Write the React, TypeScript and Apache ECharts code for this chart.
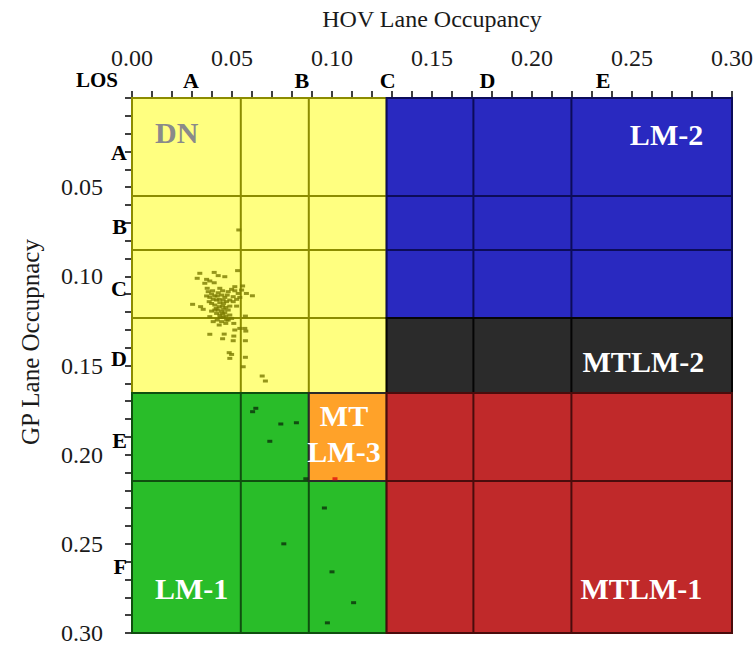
import React, { useEffect, useRef } from 'react';
import * as echarts from 'echarts';

// LOS boundaries (occupancy) on each axis
const xBounds = [0, 0.0544, 0.0884, 0.1273, 0.1707, 0.2197, 0.3];
const yBounds = [0, 0.055, 0.0852, 0.1234, 0.1654, 0.2148, 0.3];

// Regions as index ranges into the bounds
const regionNames = ['DN', 'LM-2', 'MTLM-2', 'LM-1', 'MT LM-3', 'MTLM-1'];
const regionXIdx = [[0, 3], [3, 6], [3, 6], [0, 3], [2, 3], [3, 6]];
const regionYIdx = [[0, 4], [0, 3], [3, 4], [4, 6], [4, 5], [4, 6]];

// Region label texts and anchor values
const labelTexts = ['DN', 'LM-2', 'MTLM-2', 'LM-1', 'MT\nLM-3', 'MTLM-1'];
const labelXs = [0.0115, 0.2856, 0.2861, 0.0115, 0.106, 0.2851];
const labelYs = [0.0196, 0.0202, 0.1475, 0.2748, 0.1879, 0.2748];

// LOS letters
const losXLetters = ['A', 'B', 'C', 'D', 'E'];
const losXPos = [0.0295, 0.0849, 0.1278, 0.1777, 0.2356];
const losYLetters = ['A', 'B', 'C', 'D', 'E', 'F'];
const losYPos = [0.0303, 0.0718, 0.1066, 0.1458, 0.1918, 0.2625];

// Observations
const dnPoints = [
  [0.0534, 0.074], [0.0528, 0.0968], [0.0339, 0.0983], [0.0411, 0.0978], [0.0431, 0.0996],
  [0.0326, 0.1011], [0.0464, 0.1002], [0.0373, 0.1017], [0.0389, 0.1026], [0.0364, 0.1039],
  [0.0411, 0.1036], [0.0553, 0.1054], [0.0514, 0.1058], [0.0376, 0.1067], [0.0439, 0.1067],
  [0.0572, 0.1096], [0.0602, 0.1109], [0.0303, 0.1157], [0.0343, 0.117], [0.0356, 0.1185],
  [0.0523, 0.1167], [0.0398, 0.1195], [0.0389, 0.1226], [0.0567, 0.1223], [0.0406, 0.1254],
  [0.0481, 0.1245], [0.0509, 0.1264], [0.0539, 0.1292], [0.0564, 0.1292], [0.0514, 0.1301],
  [0.0569, 0.1307], [0.0389, 0.1325], [0.0461, 0.1324], [0.0509, 0.1335], [0.0453, 0.135],
  [0.0506, 0.1361], [0.0567, 0.1361], [0.0486, 0.1428], [0.0498, 0.1438], [0.0489, 0.146],
  [0.0567, 0.1454], [0.0556, 0.1507], [0.0651, 0.1559], [0.0667, 0.1587],
  [0.0381, 0.1086], [0.0398, 0.1099], [0.0414, 0.111], [0.0431, 0.1092], [0.0448, 0.1105],
  [0.0464, 0.1118], [0.0481, 0.1086], [0.0498, 0.1073], [0.0514, 0.1081], [0.0531, 0.1096],
  [0.0539, 0.1118], [0.0523, 0.1129], [0.0506, 0.1114], [0.0489, 0.1133], [0.0473, 0.1142],
  [0.0456, 0.1133], [0.0439, 0.1148], [0.0423, 0.1133], [0.0406, 0.1129], [0.0389, 0.1118],
  [0.0373, 0.111], [0.0386, 0.1142], [0.0414, 0.1161], [0.0436, 0.117], [0.0453, 0.1167],
  [0.0469, 0.1174], [0.0431, 0.1189], [0.0448, 0.1198], [0.0464, 0.1204], [0.0481, 0.1189],
  [0.0439, 0.1217], [0.0456, 0.123], [0.0469, 0.1223], [0.0423, 0.1208], [0.0489, 0.1217],
  [0.0426, 0.1245], [0.0448, 0.1254], [0.0473, 0.1245], [0.0498, 0.1236], [0.0548, 0.1077],
  [0.0398, 0.1152], [0.0421, 0.118], [0.0441, 0.123], [0.0458, 0.1185], [0.0489, 0.1167],
  [0.0506, 0.1142], [0.0426, 0.111], [0.0403, 0.1081], [0.0453, 0.1081], [0.0476, 0.1105],
  [0.0436, 0.1129], [0.0458, 0.1152], [0.0414, 0.1189], [0.0453, 0.1211], [0.0469, 0.1264],
  [0.0436, 0.1273],
];
const lm1Points = [
  [0.0619, 0.174], [0.0603, 0.1759], [0.0744, 0.1828], [0.0822, 0.1821], [0.0689, 0.1925],
  [0.0869, 0.2135], [0.0962, 0.2299], [0.0759, 0.25], [0.1, 0.2657], [0.1108, 0.283],
  [0.0977, 0.2943],
];
const lm3Points = [[0.1015, 0.2135]];

// Styles
const regionFill = ['#ffff80', '#2929c0', '#2b2b2b', '#29bd29', '#ffa229', '#c0292a'];
const regionLine = ['#8c8c00', '#0c0c5a', '#050505', '#0f4f0f', '#2a2a2a', '#4a0c0c'];
const labelColors = ['#8a8a8a', '#ffffff', '#ffffff', '#ffffff', '#ffffff', '#ffffff'];
const labelAlign = ['left', 'right', 'right', 'left', 'center', 'right'];

const SERIF = '"Liberation Serif", "Times New Roman", serif';

export default function App() {
  const ref = useRef<HTMLDivElement>(null);

  useEffect(() => {
    if (!ref.current) return;
    const chart = echarts.init(ref.current, null, { renderer: 'svg' });

    const axisCommon = {
      type: 'value',
      min: 0,
      max: 0.3,
      interval: 0.05,
      axisLine: { show: true, onZero: false, lineStyle: { color: '#000', width: 2 } },
      axisTick: { show: true, length: 7, lineStyle: { color: '#000', width: 1.5 } },
      minorTick: { show: true, splitNumber: 5, length: 7, lineStyle: { color: '#000', width: 1.5 } },
      splitLine: { show: false },
      minorSplitLine: { show: false },
    };

    chart.setOption({
      animation: false,
      backgroundColor: '#ffffff',
      grid: { left: 132, top: 98, width: 601, height: 535, containLabel: false },
      xAxis: {
        ...axisCommon,
        position: 'top',
        axisLabel: {
          showMinLabel: true,
          showMaxLabel: true,
          formatter: (v: number) => v.toFixed(2),
          fontFamily: SERIF,
          fontSize: 24,
          color: '#1a1a1a',
          margin: 28,
        },
      },
      yAxis: {
        ...axisCommon,
        inverse: true,
        axisLabel: {
          showMinLabel: true,
          showMaxLabel: true,
          formatter: (v: number) => (v === 0 ? '' : v.toFixed(2)),
          fontFamily: SERIF,
          fontSize: 24,
          color: '#1a1a1a',
          margin: 29,
        },
      },
      series: [
        {
          type: 'custom',
          name: 'regions',
          clip: false,
          z: 1,
          data: regionNames.map((_, i) => [i]),
          encode: { x: 0, y: 0 },
          renderItem: (params: any, api: any) => {
            const i = api.value(0) as number;
            const [ix0, ix1] = regionXIdx[i];
            const [iy0, iy1] = regionYIdx[i];
            const p0 = api.coord([xBounds[ix0], yBounds[iy0]]);
            const p1 = api.coord([xBounds[ix1], yBounds[iy1]]);
            const stroke = regionLine[i];
            const children: any[] = [
              {
                type: 'rect',
                shape: { x: p0[0], y: p0[1], width: p1[0] - p0[0], height: p1[1] - p0[1] },
                style: { fill: regionFill[i], stroke, lineWidth: 2 },
              },
            ];
            for (let k = ix0 + 1; k < ix1; k++) {
              const a = api.coord([xBounds[k], yBounds[iy0]]);
              const b = api.coord([xBounds[k], yBounds[iy1]]);
              children.push({ type: 'line', shape: { x1: a[0], y1: a[1], x2: b[0], y2: b[1] }, style: { stroke, lineWidth: 2 } });
            }
            for (let k = iy0 + 1; k < iy1; k++) {
              const a = api.coord([xBounds[ix0], yBounds[k]]);
              const b = api.coord([xBounds[ix1], yBounds[k]]);
              children.push({ type: 'line', shape: { x1: a[0], y1: a[1], x2: b[0], y2: b[1] }, style: { stroke, lineWidth: 2 } });
            }
            return { type: 'group', children };
          },
        },
        {
          type: 'scatter',
          name: 'DN obs',
          z: 3,
          symbol: 'rect',
          symbolSize: [5, 3],
          itemStyle: { color: '#7a7a00' },
          data: dnPoints,
        },
        {
          type: 'scatter',
          name: 'LM-1 obs',
          z: 3,
          symbol: 'rect',
          symbolSize: [5, 3],
          itemStyle: { color: '#0b300b' },
          data: lm1Points,
        },
        {
          type: 'scatter',
          name: 'LM-3 obs',
          z: 3,
          symbol: 'rect',
          symbolSize: [5, 3],
          itemStyle: { color: '#e01010' },
          data: lm3Points,
        },
      ],
    });

    const px = (x: number, y: number) => chart.convertToPixel({ gridIndex: 0 }, [x, y]) as number[];
    const origin = px(0, 0);
    const graphics: any[] = [];

    graphics.push({
      type: 'text',
      x: (px(0, 0)[0] + px(0.3, 0)[0]) / 2,
      y: 19,
      z: 10,
      style: { text: 'HOV Lane Occupancy', fontFamily: SERIF, fontSize: 24, fill: '#1a1a1a', align: 'center', verticalAlign: 'middle' },
    });
    graphics.push({
      type: 'text',
      x: 30,
      y: 342,
      rotation: Math.PI / 2,
      z: 10,
      style: { text: 'GP Lane Occupnacy', fontFamily: SERIF, fontSize: 25, fill: '#1a1a1a', align: 'center', verticalAlign: 'middle' },
    });
    graphics.push({
      type: 'text',
      x: origin[0] - 14,
      y: origin[1] - 18,
      z: 10,
      style: { text: 'LOS', fontFamily: SERIF, fontWeight: 'bold', fontSize: 21, fill: '#000', align: 'right', verticalAlign: 'middle' },
    });
    losXLetters.forEach((t, i) => {
      const p = px(losXPos[i], 0);
      graphics.push({
        type: 'text',
        x: p[0],
        y: p[1] - 18,
        z: 10,
        style: { text: t, fontFamily: SERIF, fontWeight: 'bold', fontSize: 22, fill: '#000', align: 'center', verticalAlign: 'middle' },
      });
    });
    losYLetters.forEach((t, i) => {
      const p = px(0, losYPos[i]);
      graphics.push({
        type: 'text',
        x: p[0] - 5,
        y: p[1],
        z: 10,
        style: { text: t, fontFamily: SERIF, fontWeight: 'bold', fontSize: 22, fill: '#000', align: 'right', verticalAlign: 'middle' },
      });
    });
    labelTexts.forEach((t, i) => {
      const p = px(labelXs[i], labelYs[i]);
      graphics.push({
        type: 'text',
        x: p[0],
        y: p[1],
        z: 10,
        style: {
          text: t,
          fontFamily: SERIF,
          fontWeight: 'bold',
          fontSize: 30,
          lineHeight: 36,
          fill: labelColors[i],
          align: labelAlign[i],
          verticalAlign: 'middle',
        },
      });
    });

    chart.setOption({ graphic: graphics });

    return () => chart.dispose();
  }, []);

  return <div ref={ref} style={{ position: 'absolute', left: 0, top: 0, width: 756, height: 650 }} />;
}
